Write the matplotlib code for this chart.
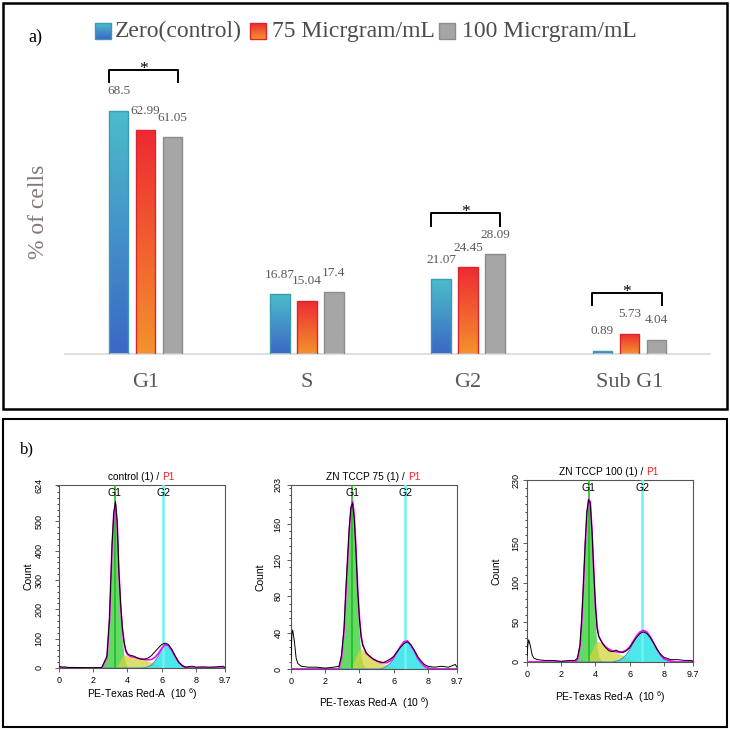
import numpy as np
import matplotlib
matplotlib.use('Agg')
import matplotlib.pyplot as plt
from matplotlib.patches import Rectangle
from matplotlib.colors import LinearSegmentedColormap
from matplotlib.ticker import MultipleLocator

plt.rcParams['font.family'] = ['Liberation Sans', 'DejaVu Sans']
plt.rcParams['mathtext.fontset'] = 'custom'
plt.rcParams['mathtext.rm'] = 'Liberation Sans'

# ---------------- panel a) cell cycle percentages ----------------
phases = ['G1', 'S', 'G2', 'Sub G1']
groups = ['Zero(control)', '75 Micrgram/mL', '100 Micrgram/mL']
zero_ctrl = [68.5, 16.87, 21.07, 0.89]
dose_75 = [62.99, 15.04, 24.45, 5.73]
dose_100 = [61.05, 17.4, 28.09, 4.04]
significant = ['G1', 'G2', 'Sub G1']

# ---------------- panel b) DNA histograms (PE-Texas Red-A, 10^6) ----------------
channel = [0, 0.05, 0.1, 0.2, 0.3, 0.4, 0.6, 1.0, 1.5, 2.0,
           2.5, 2.8, 2.95, 3.1, 3.2, 3.3, 3.4, 3.5, 3.6, 3.7,
           3.8, 3.9, 4.0, 4.1, 4.2, 4.4, 4.6, 4.8, 5.0, 5.2,
           5.4, 5.6, 5.8, 6.0, 6.2, 6.4, 6.6, 6.8, 7.0, 7.2,
           7.4, 7.6, 7.8, 8.0, 8.4, 8.8, 9.2, 9.6, 9.7]

ctrl_count = [5, 4, 5, 3, 4, 3, 2, 2, 1, 1,
              2, 40, 170, 420, 530, 568, 500, 330, 220, 140,
              90, 62, 50, 45, 43, 40, 33, 30, 30, 34,
              42, 55, 68, 80, 85, 80, 62, 40, 20, 8,
              3, 5, 6, 3, 4, 3, 4, 6, 2]
ctrl_g1 = [0, 0, 0, 0, 0, 0, 0, 0, 0, 0,
           0, 35, 165, 415, 525, 560, 485, 310, 185, 95,
           42, 15, 5, 2, 0, 0, 0, 0, 0, 0,
           0, 0, 0, 0, 0, 0, 0, 0, 0, 0,
           0, 0, 0, 0, 0, 0, 0, 0, 0]
ctrl_s = [0, 0, 0, 0, 0, 0, 0, 0, 0, 0,
          0, 0, 0, 0, 0, 0, 8, 18, 30, 40,
          45, 43, 41, 40, 39, 37, 34, 31, 28, 24,
          19, 14, 9, 5, 2, 0, 0, 0, 0, 0,
          0, 0, 0, 0, 0, 0, 0, 0, 0]
ctrl_g2 = [0, 0, 0, 0, 0, 0, 0, 0, 0, 0,
           0, 0, 0, 0, 0, 0, 0, 0, 0, 0,
           0, 0, 0, 0, 0, 0, 0, 0, 1, 4,
           10, 22, 40, 62, 78, 77, 60, 38, 19, 8,
           2, 0, 0, 0, 0, 0, 0, 0, 0]

tccp75_count = [10, 38, 43, 30, 12, 6, 3, 2, 2, 1,
                2, 3, 15, 45, 85, 120, 155, 178, 183, 165,
                128, 85, 55, 35, 26, 18, 14, 11, 9, 8,
                7, 9, 11, 14, 19, 24, 28, 30, 27, 21,
                14, 9, 5, 3, 2, 3, 2, 5, 2]
tccp75_g1 = [0, 0, 0, 0, 0, 0, 0, 0, 0, 0,
             0, 0, 12, 42, 82, 118, 152, 175, 180, 160,
             118, 70, 36, 14, 5, 0, 0, 0, 0, 0,
             0, 0, 0, 0, 0, 0, 0, 0, 0, 0,
             0, 0, 0, 0, 0, 0, 0, 0, 0]
tccp75_s = [0, 0, 0, 0, 0, 0, 0, 0, 0, 0,
            0, 0, 0, 0, 0, 0, 0, 2, 5, 9,
            14, 18, 21, 22, 21, 17, 14, 11, 9, 7,
            6, 4, 3, 2, 1, 0, 0, 0, 0, 0,
            0, 0, 0, 0, 0, 0, 0, 0, 0]
tccp75_g2 = [0, 0, 0, 0, 0, 0, 0, 0, 0, 0,
             0, 0, 0, 0, 0, 0, 0, 0, 0, 0,
             0, 0, 0, 0, 0, 0, 0, 0, 0, 0,
             1, 3, 6, 11, 18, 25, 30, 31, 26, 20,
             12, 7, 3, 1, 0, 0, 0, 0, 0]

tccp100_count = [8, 22, 28, 20, 9, 5, 3, 2, 2, 1,
                 2, 2, 5, 22, 55, 100, 150, 190, 205, 200,
                 165, 115, 70, 42, 32, 24, 18, 14, 13, 15,
                 13, 12, 14, 18, 25, 31, 36, 38, 36, 31,
                 24, 16, 10, 6, 3, 3, 2, 2, 1]
tccp100_g1 = [0, 0, 0, 0, 0, 0, 0, 0, 0, 0,
              0, 0, 3, 20, 52, 98, 147, 185, 200, 192,
              150, 96, 48, 18, 6, 1, 0, 0, 0, 0,
              0, 0, 0, 0, 0, 0, 0, 0, 0, 0,
              0, 0, 0, 0, 0, 0, 0, 0, 0]
tccp100_s = [0, 0, 0, 0, 0, 0, 0, 0, 0, 0,
             0, 0, 0, 0, 0, 0, 1, 3, 6, 10,
             15, 20, 24, 26, 26, 23, 19, 16, 14, 12,
             10, 8, 6, 4, 3, 2, 1, 0, 0, 0,
             0, 0, 0, 0, 0, 0, 0, 0, 0]
tccp100_g2 = [0, 0, 0, 0, 0, 0, 0, 0, 0, 0,
              0, 0, 0, 0, 0, 0, 0, 0, 0, 0,
              0, 0, 0, 0, 0, 0, 0, 0, 0, 1,
              2, 5, 9, 15, 23, 31, 37, 40, 38, 32,
              24, 16, 9, 4, 1, 0, 0, 0, 0]

sample_names = ['control (1) / ', 'ZN TCCP 75 (1) / ', 'ZN TCCP 100 (1) / ']
y_max = [624, 203, 230]
y_ticks = [[0, 100, 200, 300, 400, 500, 624],
           [0, 40, 80, 120, 160, 203],
           [0, 50, 100, 150, 230]]
g1_gate = [3.25, 3.57, 3.62]
g2_gate = [6.08, 6.67, 6.73]
x_ticks = [0, 2, 4, 6, 8, 9.7]

fig = plt.figure(figsize=(7.3, 7.3), dpi=100, facecolor='white')
W = 730.0


def px_axes(l, t, r, b):
    return fig.add_axes([l / W, 1 - b / W, (r - l) / W, (b - t) / W])


# overlay in pixel coordinates for frames and free text
ov = fig.add_axes([0, 0, 1, 1], zorder=5)
ov.set_xlim(0, 730)
ov.set_ylim(730, 0)
ov.axis('off')
ov.patch.set_alpha(0)

ov.add_patch(Rectangle((3, 3), 724, 406, fill=False, ec='black', lw=1.8))
ov.add_patch(Rectangle((3, 419), 724, 308, fill=False, ec='black', lw=1.5))
ov.text(35, 37, 'a)', fontsize=13, family='Liberation Serif', ha='center', va='center')
ov.text(27, 449, 'b)', fontsize=12, family='Liberation Serif', ha='center', va='center')

# ---------------- bar chart ----------------
bar_top = ['#4cbccb', '#ef2a33', '#a6a6a6']
bar_bottom = ['#3b68c6', '#f3922c', '#a6a6a6']
bar_edge = ['#3a9cb2', '#d8262c', '#8c8c8c']

ax = px_axes(65, 60, 710, 354)
ax.patch.set_alpha(0)
x = np.arange(len(phases))
offsets = [-0.168, 0.0, 0.168]
width = 0.121
series = [zero_ctrl, dose_75, dose_100]
for k, vals in enumerate(series):
    bars = ax.bar(x + offsets[k], vals, width, facecolor='none',
                  edgecolor=bar_edge[k], lw=1.0, zorder=3)
    cmap = LinearSegmentedColormap.from_list('g%d' % k, [bar_bottom[k], bar_top[k]])
    for rect in bars:
        x0, h = rect.get_x(), rect.get_height()
        im = ax.imshow(np.linspace(0, 1, 64).reshape(-1, 1), cmap=cmap, origin='lower',
                       extent=[x0, x0 + rect.get_width(), 0, h], aspect='auto', zorder=2)
        im.set_clip_path(rect)
    for xi, v in zip(x + offsets[k], vals):
        ax.annotate(f'{v:g}', (xi, v), xytext=(0, 14), textcoords='offset points',
                    ha='center', va='center', fontsize=9.5, color='#595959',
                    family='Liberation Serif')

for name in significant:
    i = phases.index(name)
    top = max(s[i] for s in series) + 11.5
    l, r = i - 0.23, i + 0.2
    ax.plot([l, l, r, r], [top - 3.5, top, top, top - 3.5], color='black', lw=1.4,
            clip_on=False, zorder=4)
    ax.annotate('*', ((l + r) / 2, top), xytext=(0, -2), textcoords='offset points',
                ha='center', va='baseline', fontsize=12.5, family='Liberation Serif')

ax.set_xlim(-0.5, 3.5)
ax.set_ylim(0, 82.8)
for sp in ['top', 'right', 'left']:
    ax.spines[sp].set_visible(False)
ax.spines['bottom'].set_color('#d9d9d9')
ax.spines['bottom'].set_linewidth(1.2)
ax.set_yticks([])
ax.set_xticks(x)
ax.set_xticklabels(phases, fontsize=16, color='#595959', family='Liberation Serif')
ax.tick_params(axis='x', length=0, pad=14)
ov.text(38, 212, '% of cells', rotation=90, fontsize=17, color='#857878',
        family='Liberation Serif', ha='center', va='center')

# legend
leg_sq = [95, 250, 439]
leg_tx = [115, 272, 462]
for k, name in enumerate(groups):
    cmap = LinearSegmentedColormap.from_list('l%d' % k, [bar_bottom[k], bar_top[k]])
    ov.imshow(np.linspace(0, 1, 32).reshape(-1, 1), cmap=cmap, origin='lower',
              extent=[leg_sq[k], leg_sq[k] + 16, 39, 23], aspect='auto')
    ov.add_patch(Rectangle((leg_sq[k], 23), 16, 16, fill=False, ec=bar_edge[k], lw=1))
    ov.text(leg_tx[k], 31, name, fontsize=17, color='#4d4d4d', family='Liberation Serif',
            ha='left', va='center')
ov.set_xlim(0, 730)
ov.set_ylim(730, 0)

# ---------------- histograms ----------------
hist_data = [(ctrl_count, ctrl_g1, ctrl_s, ctrl_g2),
             (tccp75_count, tccp75_g1, tccp75_s, tccp75_g2),
             (tccp100_count, tccp100_g1, tccp100_s, tccp100_g2)]
boxes = [(59, 485, 225, 668), (291, 485, 457, 669), (527, 480, 693, 662)]
title_split = [0.62, 0.705, 0.72]
ylabel_x = [29, 261, 497]
xlabel_y = [694, 703, 697]
ytick_pad = [8, 3.2, 1.8]
minor_step = [20, 8, 10]

for p in range(3):
    counts, g1, s, g2 = hist_data[p]
    hx = px_axes(*boxes[p])
    hx.fill_between(channel, g1, color='#3fd03f', alpha=0.8, lw=0, zorder=1)
    hx.fill_between(channel, s, color='#d4d43c', alpha=0.75, lw=0, zorder=2)
    hx.fill_between(channel, g2, color='#2de3e8', alpha=0.85, lw=0, zorder=2)
    hx.plot(channel, g2, color='#3b8fd0', lw=0.8, zorder=3)
    hx.axvline(g1_gate[p], color='#22bb22', lw=1.2, zorder=3)
    hx.axvline(g2_gate[p], color='#6ff2f2', lw=1.8, zorder=3)
    model = [a + b + c for a, b, c in zip(g1, s, g2)]
    hx.plot(channel, model, color='#ff00ff', lw=1.2, zorder=4)
    hx.plot(channel, counts, color='black', lw=0.7, zorder=5)
    hx.text(g1_gate[p], y_max[p] * 0.985, 'G1', ha='center', va='top', fontsize=7.5, zorder=6)
    hx.text(g2_gate[p], y_max[p] * 0.985, 'G2', ha='center', va='top', fontsize=7.5, zorder=6)

    hx.set_xlim(0, 9.7)
    hx.set_ylim(0, y_max[p])
    hx.set_xticks(x_ticks)
    hx.set_xticklabels([f'{t:g}' for t in x_ticks])
    hx.set_yticks(y_ticks[p])
    hx.yaxis.set_minor_locator(MultipleLocator(minor_step[p]))
    hx.tick_params(labelsize=6.5, length=3, width=0.6, color='#444444')
    hx.tick_params(axis='y', which='minor', length=1.5, width=0.5)
    hx.tick_params(axis='y', pad=ytick_pad[p])
    hx.tick_params(axis='x', pad=2.5)
    plt.setp(hx.get_yticklabels(), rotation=90, va='center')
    for sp in hx.spines.values():
        sp.set_color('#555555')
        sp.set_linewidth(0.8)

    hx.annotate(sample_names[p], (title_split[p], 1.0), xycoords='axes fraction',
                xytext=(0, 2), textcoords='offset points', ha='right', va='bottom', fontsize=7.3)
    hx.annotate('P1', (title_split[p], 1.0), xycoords='axes fraction',
                xytext=(0, 2), textcoords='offset points', ha='left', va='bottom',
                fontsize=7.3, color='#ff2020')

    cx = (boxes[p][0] + boxes[p][2]) / 2
    ov.text(cx, xlabel_y[p], 'PE-Texas Red-A  (10 ${}^{6}$)', fontsize=7.5, ha='center', va='center')
    ov.text(ylabel_x[p], (boxes[p][1] + boxes[p][3]) / 2, 'Count', rotation=90, fontsize=7.5,
            ha='center', va='center')

fig.savefig('out.png', dpi=100, facecolor='white')
